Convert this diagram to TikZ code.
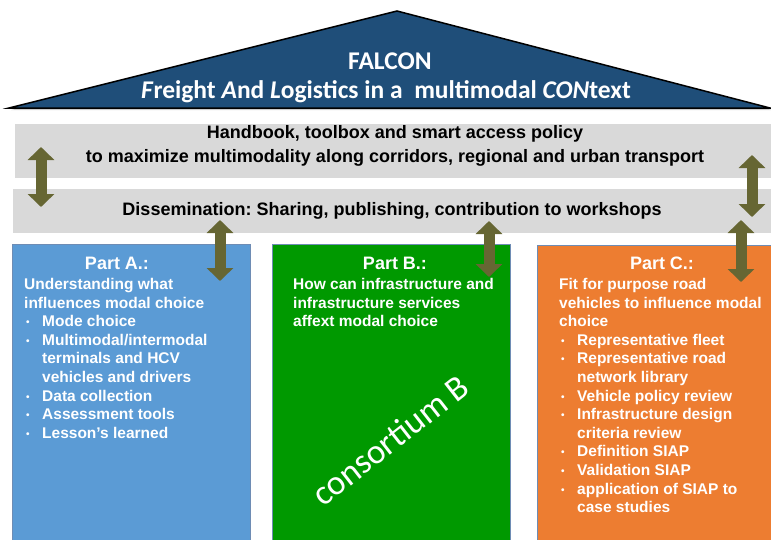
\documentclass[tikz,border=0pt]{standalone}
\usepackage{fontspec}
\setmainfont{Liberation Sans}
\newfontfamily\calibri{Carlito}
\usetikzlibrary{arrows.meta}
\frenchspacing
\definecolor{roofblue}{RGB}{31,78,121}
\definecolor{bandgray}{RGB}{217,217,217}
\definecolor{partA}{RGB}{91,155,213}
\definecolor{partB}{RGB}{0,153,0}
\definecolor{partC}{RGB}{237,125,49}
\definecolor{boxedge}{RGB}{110,140,180}
\definecolor{linkolive}{RGB}{102,102,51}
\tikzset{
  band/.style={fill=bandgray, anchor=north west, inner sep=0pt},
  bandtext/.style={align=center, font=\fontsize{18}{23.5}\selectfont\bfseries},
  partbox/.style={draw=boxedge, line width=0.6pt, anchor=north west, inner sep=0pt},
  parttitle/.style={text=white, font=\fontsize{18}{20}\selectfont\bfseries},
  partlist/.style={text=white, anchor=north west, inner sep=0pt, align=left,
    font=\fontsize{15.5}{18.6}\selectfont\bfseries},
  titletext/.style={text=white, font=\calibri\fontsize{25.5}{30}\selectfont\bfseries},
  linkarrow/.style={draw=linkolive, line width=11pt,
    {Triangle[width=26pt,length=13pt]}-{Triangle[width=26pt,length=13pt]}},
}
\newcommand{\itm}{\makebox[18pt][l]{\hspace{2pt}\raisebox{1pt}{\fontsize{10}{10}\selectfont\textbullet}}}
\newcommand{\ind}{\hspace{18pt}}

\begin{document}
\begin{tikzpicture}[x=1pt,y=-1pt]
  \useasboundingbox (0,0) rectangle (771,539);

  % roof
  \fill[black,opacity=0.2] (11,110) -- (399,13) -- (772,110) -- cycle;
  \filldraw[fill=roofblue, draw=black, line width=1.5pt] (9,108) -- (397,11) -- (770,108) -- cycle;
  \node[titletext] (falcon) at (390,61) {FALCON};
  \node[titletext] (fullname) at (386,92)
    {\textit{F}reight \textit{A}nd \textit{L}ogistics in a\ \ multimodal \textit{CON}text};

  % bands
  \node[band, minimum width=756pt, minimum height=54pt] (policy) at (15,124) {};
  \node[bandtext] (policytext) at (395,146)
    {Handbook, toolbox and smart access policy\\
     to maximize multimodality along corridors, regional and urban transport};
  \node[band, minimum width=758pt, minimum height=44pt] (dissem) at (13,189) {};
  \node[bandtext] (dissemtext) at (392,211)
    {Dissemination: Sharing, publishing, contribution to workshops};

  % parts
  \node[partbox, fill=partA, minimum width=238pt, minimum height=300pt] (boxA) at (12,244) {};
  \node[partbox, fill=partB, minimum width=238pt, minimum height=300pt] (boxB) at (272,244) {};
  \node[partbox, fill=partC, minimum width=236pt, minimum height=300pt] (boxC) at (537,245) {};

  \node[parttitle] (titleA) at (117,263) {Part A.:};
  \node[partlist] (listA) at (24,278)
    {Understanding what\\
     influences modal choice\\
     \itm Mode choice\\
     \itm Multimodal/intermodal\\
     \ind terminals and HCV\\
     \ind vehicles and drivers\\
     \itm Data collection\\
     \itm Assessment tools\\
     \itm Lesson’s learned};

  \node[parttitle] (titleB) at (395,263) {Part B.:};
  \node[partlist] (listB) at (293,278)
    {How can infrastructure and\\
     infrastructure services\\
     affext modal choice};
  \node[rotate=38, text=white, font=\calibri\fontsize{35}{35}\selectfont]
    (consortium) at (390,440) {consortium B};

  \node[parttitle] (titleC) at (662,263) {Part C.:};
  \node[partlist] (listC) at (559,278)
    {Fit for purpose road\\
     vehicles to influence modal\\
     choice\\
     \itm Representative fleet\\
     \itm Representative road\\
     \ind network library\\
     \itm Vehicle policy review\\
     \itm Infrastructure design\\
     \ind criteria review\\
     \itm Definition SIAP\\
     \itm Validation SIAP\\
     \itm application of SIAP to\\
     \ind case studies};

  % links
  \coordinate (l1a) at (41,147);  \coordinate (l1b) at (41,207);
  \coordinate (l2a) at (220,220); \coordinate (l2b) at (220,281);
  \coordinate (l3a) at (489,221); \coordinate (l3b) at (489,277);
  \coordinate (l4a) at (752,155); \coordinate (l4b) at (752,217);
  \coordinate (l5a) at (741,220); \coordinate (l5b) at (741,282);
  \foreach \l in {1,...,5}
    \draw[linkarrow] (l\l a) -- (l\l b);
\end{tikzpicture}
\end{document}
